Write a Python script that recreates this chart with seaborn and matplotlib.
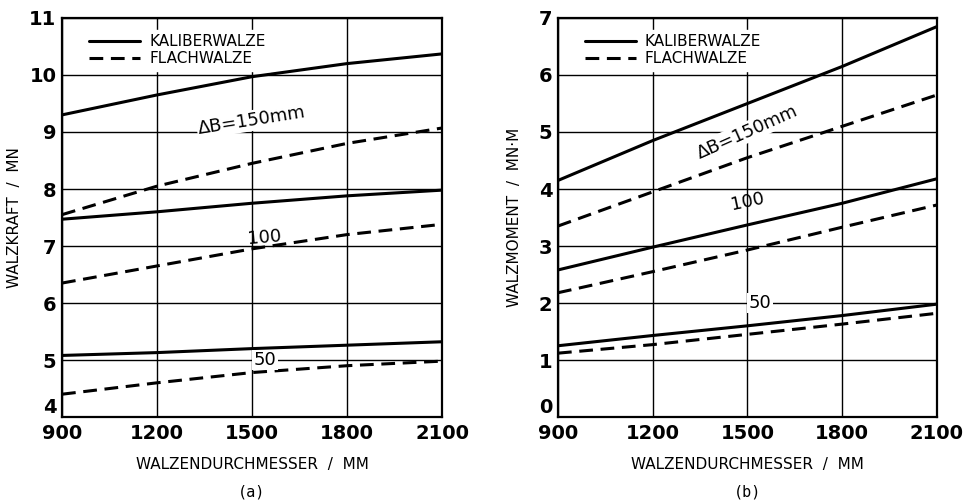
import numpy as np
import pandas as pd
import seaborn as sns
import matplotlib.pyplot as plt
from matplotlib.lines import Line2D

# roll diameter / mm
durchmesser = [900, 1200, 1500, 1800, 2100]
delta_b = [150, 100, 50]

# (a) Walzkraft / MN
kraft_kaliber = {
    150: [9.30, 9.65, 9.97, 10.20, 10.37],
    100: [7.47, 7.60, 7.75, 7.88, 7.98],
    50: [5.08, 5.13, 5.20, 5.26, 5.32],
}
kraft_flach = {
    150: [7.55, 8.05, 8.45, 8.80, 9.07],
    100: [6.35, 6.65, 6.95, 7.20, 7.38],
    50: [4.40, 4.60, 4.78, 4.90, 4.98],
}

# (b) Walzmoment / MN.m
moment_kaliber = {
    150: [4.15, 4.85, 5.50, 6.15, 6.85],
    100: [2.58, 2.98, 3.37, 3.75, 4.18],
    50: [1.25, 1.43, 1.60, 1.78, 1.98],
}
moment_flach = {
    150: [3.35, 3.95, 4.55, 5.10, 5.65],
    100: [2.18, 2.55, 2.93, 3.33, 3.72],
    50: [1.12, 1.27, 1.45, 1.63, 1.82],
}


def long_table(kaliber, flach):
    rows = []
    for walze, src in (("Kaliberwalze", kaliber), ("Flachwalze", flach)):
        for db in delta_b:
            for d, v in zip(durchmesser, src[db]):
                rows.append({"d": d, "v": v, "Walze": walze, "dB": db})
    return pd.DataFrame(rows)


sns.set_style("white")
plt.rcParams["font.family"] = ["DejaVu Sans"]
plt.rcParams["text.color"] = "black"
plt.rcParams["axes.labelcolor"] = "black"
plt.rcParams["xtick.color"] = "black"
plt.rcParams["ytick.color"] = "black"

fig = plt.figure(figsize=(9.63, 5.04), dpi=100)
ax_a = fig.add_axes([0.0644, 0.1726, 0.3946, 0.7917])
ax_b = fig.add_axes([0.5794, 0.1726, 0.3936, 0.7917])

dash_map = {"Kaliberwalze": "", "Flachwalze": (4.5, 2.5)}

panels = [
    (ax_a, long_table(kraft_kaliber, kraft_flach), (4, 11), "WALZKRAFT  /  MN", "(a)", -0.105),
    (ax_b, long_table(moment_kaliber, moment_flach), (0, 7), "WALZMOMENT  /  MN·M", "(b)", -0.095),
]

for ax, df, ylim, ylabel, tag, ylab_x in panels:
    ax.grid(True, color="black", linewidth=1.0)
    ax.set_axisbelow(True)
    sns.lineplot(
        data=df, x="d", y="v", style="Walze", units="dB", estimator=None,
        color="black", linewidth=2.2, dashes=dash_map, legend=False, ax=ax,
    )
    ax.set_xlim(900, 2100)
    ax.set_ylim(*ylim)
    ax.set_xticks(durchmesser)
    ax.set_yticks(range(ylim[0], ylim[1] + 1))
    ax.tick_params(labelsize=14, length=0, pad=4)
    ax.tick_params(axis="x", pad=5)
    for lab in ax.get_xticklabels() + ax.get_yticklabels():
        lab.set_fontweight("bold")
    ax.get_yticklabels()[0].set_va("bottom")
    for sp in ax.spines.values():
        sp.set_color("black")
        sp.set_linewidth(1.6)
    ax.set_xlabel("WALZENDURCHMESSER  /  MM", fontsize=11, labelpad=10)
    ax.set_ylabel(ylabel, fontsize=11)
    ax.yaxis.set_label_coords(ylab_x, 0.5)
    ax.text(0.5, -0.17, tag, transform=ax.transAxes, ha="center", va="top",
            fontsize=11, family="DejaVu Sans Mono")

    handles = [
        Line2D([], [], color="black", linewidth=2.2, linestyle="-"),
        Line2D([], [], color="black", linewidth=2.2, linestyle=(0, (4.5, 2.5))),
    ]
    leg = ax.legend(handles, ["KALIBERWALZE", "FLACHWALZE"], loc="upper left",
                    bbox_to_anchor=(0.04, 0.99), frameon=True, fancybox=False,
                    fontsize=11, handlelength=3.3, borderpad=0.3,
                    labelspacing=0.15, handletextpad=0.6)
    leg.get_frame().set_edgecolor("white")
    leg.get_frame().set_facecolor("white")
    leg.get_frame().set_alpha(1)

bbox = dict(facecolor="white", edgecolor="none", pad=1)
# curve labels (a)
ax_a.text(1500, 9.2, "ΔB=150mm", fontsize=13, rotation=9, ha="center", va="center", bbox=bbox)
ax_a.text(1540, 7.15, "100", fontsize=13, rotation=5, ha="center", va="center")
ax_a.text(1540, 5.0, "50", fontsize=13, ha="center", va="center", bbox=bbox)
# curve labels (b)
ax_b.text(1500, 5.0, "ΔB=150mm", fontsize=13, rotation=24, ha="center", va="center", bbox=bbox)
ax_b.text(1500, 3.78, "100", fontsize=13, rotation=12, ha="center", va="center")
ax_b.text(1540, 2.0, "50", fontsize=13, ha="center", va="center", bbox=bbox)

fig.savefig("out.png", dpi=100)
